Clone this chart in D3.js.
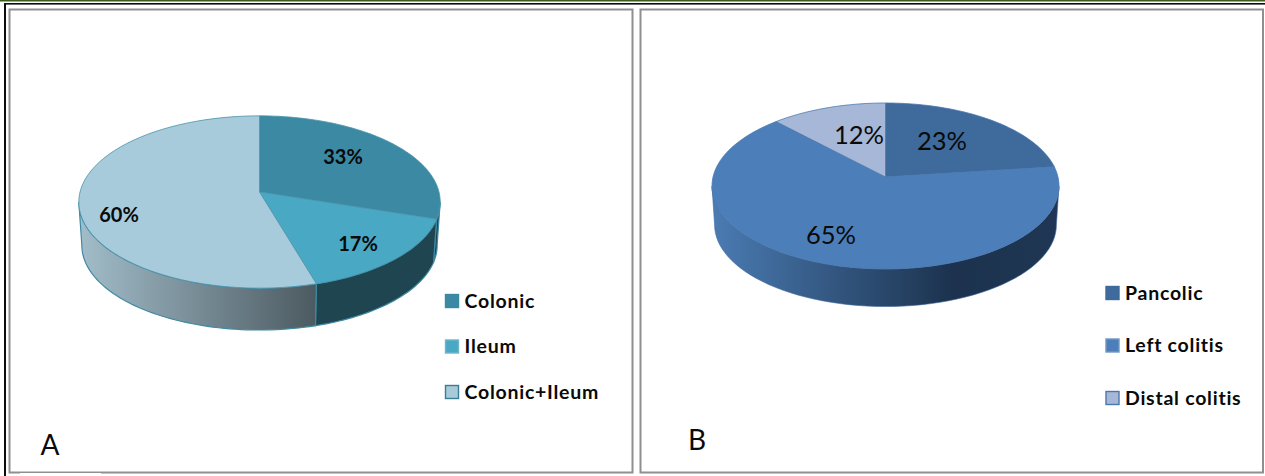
<!DOCTYPE html>
<html>
<head>
<meta charset="utf-8">
<script src="https://cdn.jsdelivr.net/npm/d3@7/dist/d3.min.js"></script>
<style>
  html, body { margin: 0; padding: 0; background: #fff; overflow: hidden; }
  text { font-family: Lato, "Open Sans", sans-serif; fill: #0a0a0a; }
</style>
</head>
<body>
<svg id="chart" width="1265" height="476"></svg>
<script>
// Disease location shares (left) and colitis extent (right)
const locationCategories = ["Colonic", "Ileum", "Colonic+Ileum"];
const locationValues = [33, 17, 60];
const locationColors = ["#3b89a2", "#49a9c5", "#a8cbdb"];

const extentCategories = ["Pancolic", "Left colitis", "Distal colitis"];
const extentValues = [23, 65, 12];
const extentColors = ["#3e6a9c", "#4c7fba", "#a7b7d7"];

const svg = d3.select("#chart");
const defs = svg.append("defs");

// Perspective-tilted disc: turns a pie angle into a point on the top or bottom rim
function discProjection(g) {
  return (angle, radial = 1, floor = false) => {
    const k = floor ? g.floorScale : 1;
    const u = Math.sin(angle) * radial;
    const v = -Math.cos(angle) * radial;
    const w = 1 - g.tilt * v;
    return [
      g.cx + (g.rx * k * u) / w,
      g.cy + (floor ? g.depth : 0) + (g.ry * k * v) / w
    ];
  };
}

const arcSamples = (a0, a1) => d3.range(0, 61).map(i => a0 + (a1 - a0) * i / 60);

function drawPanel(panel) {
  const g = svg.append("g");
  const project = discProjection(panel.geometry);
  const line = d3.line();

  g.append("rect")
    .attr("x", panel.frame[0]).attr("y", panel.frame[1])
    .attr("width", panel.frame[2]).attr("height", panel.frame[3])
    .attr("fill", "#fff").attr("stroke", "#8f8f8f").attr("stroke-width", 2);

  const slices = d3.pie().sort(null)(panel.values);

  // Side wall: only the part of each slice that faces the viewer
  const wallStart = Math.acos(-panel.geometry.tilt);
  const wallEnd = 2 * Math.PI - wallStart;
  slices.forEach((s, i) => {
    const a0 = Math.max(s.startAngle, wallStart);
    const a1 = Math.min(s.endAngle, wallEnd);
    if (a1 <= a0) return;
    const fill = panel.wallFill(i, g);
    const angles = arcSamples(a0, a1);
    const outline = angles.map(a => project(a))
      .concat(angles.slice().reverse().map(a => project(a, 1, true)));
    g.append("path")
      .attr("d", line(outline) + "Z")
      .attr("fill", fill)
      .attr("stroke", panel.wallStroke)
      .attr("stroke-width", panel.wallStrokeWidth);
  });

  // Top face of the disc
  slices.forEach((s, i) => {
    const rim = arcSamples(s.startAngle, s.endAngle).map(a => project(a));
    g.append("path")
      .attr("d", line([project(0, 0), ...rim]) + "Z")
      .attr("fill", panel.colors[i])
      .attr("stroke", panel.faceStroke)
      .attr("stroke-width", 0.8)
      .attr("stroke-linejoin", "round");
  });

  // Value labels
  slices.forEach((s, i) => {
    g.append("text")
      .attr("x", panel.labelAt[i][0]).attr("y", panel.labelAt[i][1])
      .attr("text-anchor", "middle").attr("dominant-baseline", "central")
      .attr("font-size", panel.labelSize)
      .attr("font-weight", panel.labelWeight)
      .text(panel.values[i] + "%");
  });

  // Legend
  const legendY = d3.scalePoint().domain(panel.categories).range(panel.legend.yRange);
  panel.categories.forEach((c, i) => {
    const y = legendY(c);
    g.append("rect")
      .attr("x", panel.legend.x).attr("y", y - 6.5)
      .attr("width", 13).attr("height", 13)
      .attr("fill", panel.colors[i])
      .attr("stroke", panel.legend.stroke[i]).attr("stroke-width", 1.4);
    g.append("text")
      .attr("x", panel.legend.x + 19).attr("y", y - 1)
      .attr("dominant-baseline", "central")
      .attr("font-size", 19.5).attr("font-weight", 700)
      .attr("letter-spacing", 0.75)
      .text(c);
  });

  g.append("text")
    .attr("x", panel.tag.x).attr("y", panel.tag.y)
    .attr("text-anchor", "middle")
    .attr("font-size", 28).attr("font-weight", 400)
    .text(panel.tag.text);
}

function wallGradient(id, x0, x1, stops) {
  const grad = defs.append("linearGradient").attr("id", id)
    .attr("gradientUnits", "userSpaceOnUse")
    .attr("x1", x0).attr("x2", x1).attr("y1", 0).attr("y2", 0);
  stops.forEach(([o, c]) => grad.append("stop").attr("offset", o).attr("stop-color", c));
  return `url(#${id})`;
}

// Outer page rules
svg.append("rect").attr("x", 0).attr("y", 0).attr("width", 1265).attr("height", 1.5).attr("fill", "#3d5a1e");
svg.append("rect").attr("x", 4).attr("y", 3).attr("width", 1261).attr("height", 1.6).attr("fill", "#0d0d0d");
svg.append("rect").attr("x", 4).attr("y", 3).attr("width", 2).attr("height", 473).attr("fill", "#0d0d0d");

drawPanel({
  categories: locationCategories,
  values: locationValues,
  colors: locationColors,
  frame: [9.5, 9.5, 623, 463],
  geometry: { cx: 259.5, cy: 192, rx: 179.5, ry: 85, tilt: 0.116, depth: 43.5, floorScale: 0.983 },
  faceStroke: "#4a93ab",
  wallStroke: "#3f8aa3",
  wallStrokeWidth: 1.2,
  wallFill(i) {
    if (i < 2) return "#1e4550";
    return wallGradient("wallLocation", 82, 316, [[0, "#a1bcc8"], [1, "#4c5a61"]]);
  },
  labelAt: [[343, 156], [358, 243], [119, 214]],
  labelSize: 20,
  labelWeight: 700,
  legend: { x: 445.5, yRange: [301, 392], stroke: ["#3b89a2", "#6fb6cd", "#3b7f96"] },
  tag: { x: 50, y: 455, text: "A" }
});

// Thin gap in the lower rule of the left frame
svg.append("rect").attr("x", 20).attr("y", 473).attr("width", 81).attr("height", 1).attr("fill", "#fff");

drawPanel({
  categories: extentCategories,
  values: extentValues,
  colors: extentColors,
  frame: [640.5, 9.5, 622.5, 463],
  geometry: { cx: 885.5, cy: 177, rx: 172.5, ry: 82, tilt: 0.108, depth: 39, floorScale: 0.985 },
  faceStroke: "#4a78ae",
  wallStroke: "#3e6a9c",
  wallStrokeWidth: 0.6,
  wallFill() {
    return wallGradient("wallExtent", 714, 1056, [[0, "#4a7bb2"], [0.7, "#1c324e"], [1, "#1f3754"]]);
  },
  labelAt: [[942, 140], [831, 234], [859, 134]],
  labelSize: 25.5,
  labelWeight: 400,
  legend: { x: 1106, yRange: [293, 398], stroke: ["#3e6a9c", "#6f97c6", "#4a78ae"] },
  tag: { x: 697, y: 450, text: "B" }
});
</script>
</body>
</html>
